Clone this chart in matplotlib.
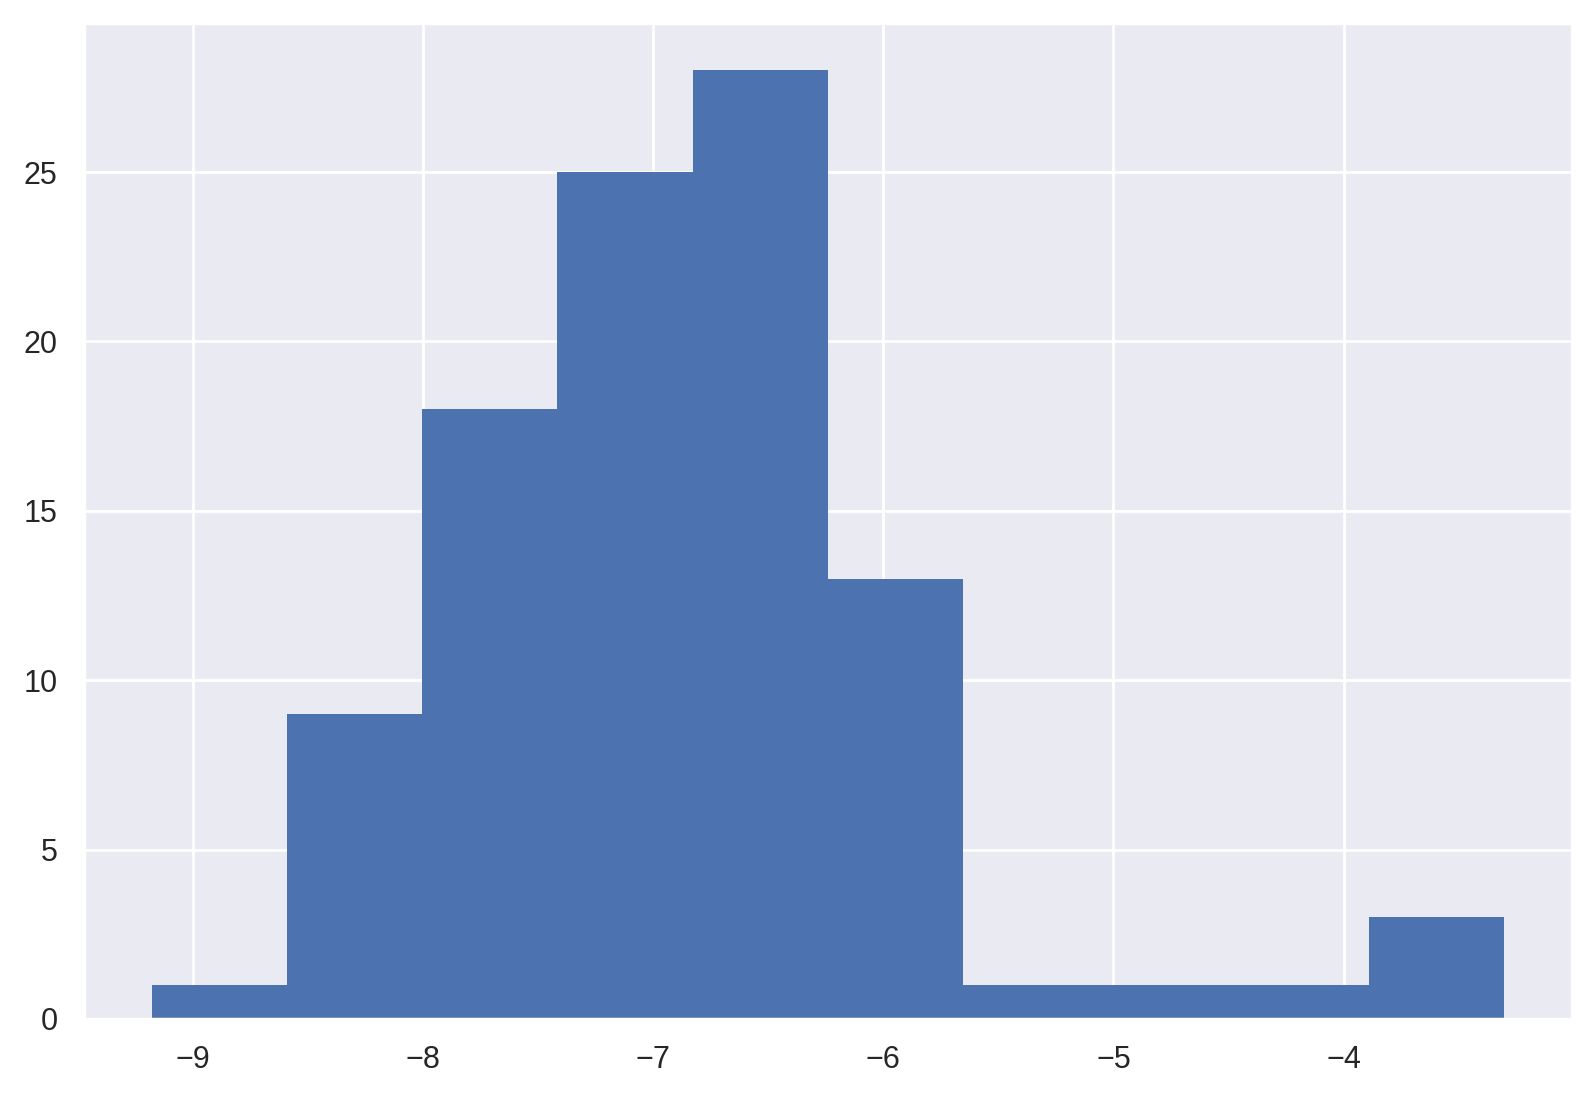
import numpy as np
import matplotlib
matplotlib.use("Agg")
import matplotlib.pyplot as plt
import seaborn as sns

# Data
bin_start = -9.179
bin_end = -3.302
n_bins = 10
counts = [1, 9, 18, 25, 28, 13, 1, 1, 1, 3]

sns.set_theme(style="darkgrid")
plt.rcParams['font.family'] = ['Liberation Sans', 'DejaVu Sans']

edges = np.linspace(bin_start, bin_end, n_bins + 1)
centers = (edges[:-1] + edges[1:]) / 2

fig = plt.figure(figsize=(7.98, 5.49), dpi=200)
ax = fig.add_axes([0.0526, 0.072, 0.9323, 0.907])
ax.hist(centers, bins=edges, weights=counts, color='#4C72B0', linewidth=0)
ax.set_xticks([-9, -8, -7, -6, -5, -4])
ax.set_yticks([0, 5, 10, 15, 20, 25])
fig.savefig("out.png", dpi=200)
